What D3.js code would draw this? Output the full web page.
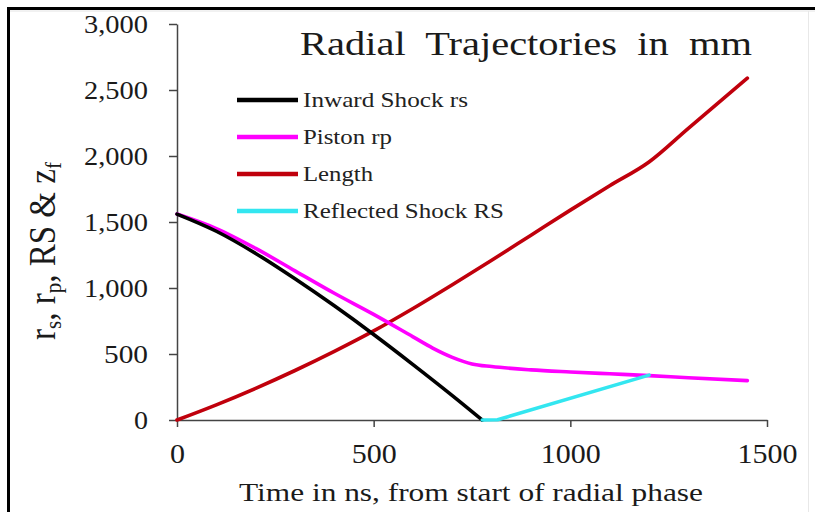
<!DOCTYPE html>
<html><head><meta charset="utf-8">
<script src="https://cdn.jsdelivr.net/npm/d3@7"></script>
<style>body{margin:0;background:#fff}svg{display:block}</style>
</head><body>
<svg id="c" width="815" height="512"></svg>
<script>
// ---- data ----
const xTicks = [0, 500, 1000, 1500];
const yTicks = [0, 500, 1000, 1500, 2000, 2500, 3000];
const seriesNames = ["Inward Shock rs", "Piston rp", "Length", "Reflected Shock RS"];
const shockT   = [0, 100, 200, 300, 400, 500, 600, 700, 776];
const shockR   = [1560, 1430, 1262, 1070, 865, 648, 420, 185, 0];
const pistonT  = [0, 100, 200, 300, 400, 500, 600, 650, 700, 750, 800, 900, 1000, 1100, 1200, 1300, 1450];
const pistonR  = [1560, 1450, 1300, 1130, 960, 800, 630, 545, 475, 425, 405, 380, 364, 350, 336, 320, 298];
const lengthT  = [0, 100, 200, 300, 400, 500, 600, 700, 800, 900, 1000, 1100, 1200, 1300, 1450];
const lengthZ  = [0, 115, 240, 375, 520, 675, 845, 1025, 1210, 1400, 1590, 1775, 1955, 2210, 2590];
const reflT    = [776, 815, 1200];
const reflR    = [0, 2, 340];

const colors = ["#000000", "#ff00ff", "#c0000c", "#33e6f0"];
const FONT = "'Liberation Serif','Times New Roman',serif";

const svg = d3.select("#c");
// frame
svg.append("line").attr("x1",8.5).attr("y1",8).attr("x2",8.5).attr("y2",512).attr("stroke","#000").attr("stroke-width",3);
svg.append("line").attr("x1",7).attr("y1",8.5).attr("x2",815).attr("y2",8.5).attr("stroke","#000").attr("stroke-width",3);
svg.append("line").attr("x1",10).attr("y1",11).attr("x2",815).attr("y2",11).attr("stroke","#e4e4e4").attr("stroke-width",1);
svg.append("line").attr("x1",808.5).attr("y1",11).attr("x2",808.5).attr("y2",512).attr("stroke","#e8e8e8").attr("stroke-width",1);

const x = d3.scaleLinear().domain([0, 1500]).range([177, 767]);
const y = d3.scaleLinear().domain([0, 3000]).range([420, 24]);

// axes
const gy = svg.append("g").attr("transform","translate(177,0)")
  .call(d3.axisLeft(y).tickValues(yTicks).tickSize(8).tickSizeOuter(0).tickPadding(21).tickFormat(d3.format(",")));
const gx = svg.append("g").attr("transform","translate(0,420)")
  .call(d3.axisBottom(x).tickValues(xTicks).tickSize(7).tickSizeOuter(0).tickFormat(d3.format("d")));
[gx, gy].forEach(g => {
  g.select(".domain").attr("stroke","#444").attr("stroke-width",1.5);
  g.selectAll(".tick line").attr("stroke","#444").attr("stroke-width",1.5);
  g.selectAll("text").attr("fill","#1a1a1a").style("font-family",FONT);
});
gy.selectAll("text").style("font-size","26px")
  .attr("textLength", d => d >= 1000 ? 64 : (d > 0 ? 44 : 14)).attr("lengthAdjust","spacingAndGlyphs");
gx.selectAll("text").style("font-size","28px").attr("y",43).attr("dy",0)
  .attr("textLength", d => d >= 1000 ? 60 : (d > 0 ? 45 : 15)).attr("lengthAdjust","spacingAndGlyphs");

// lines
const smooth = d3.line().x(d => x(d[0])).y(d => y(d[1])).curve(d3.curveMonotoneX);
const straight = d3.line().x(d => x(d[0])).y(d => y(d[1]));
const series = [
  d3.zip(shockT, shockR),
  d3.zip(pistonT, pistonR),
  d3.zip(lengthT, lengthZ),
  d3.zip(reflT, reflR)
];
const drawOrder = [2, 1, 0, 3];
drawOrder.forEach(i => {
  svg.append("path").datum(series[i]).attr("d", i === 3 ? straight : smooth)
    .attr("fill","none").attr("stroke",colors[i]).attr("stroke-width",3.6)
    .attr("stroke-linejoin","round").attr("stroke-linecap","round");
});

// legend
const legendW = [165, 89, 70, 201];
seriesNames.forEach((n, i) => {
  const ly = 100 + i * 37;
  svg.append("line").attr("x1",237).attr("x2",298).attr("y1",ly).attr("y2",ly)
    .attr("stroke",colors[i]).attr("stroke-width",4.5);
  svg.append("text").attr("x",303).attr("y",ly+7).text(n)
    .style("font-family",FONT).style("font-size","21px").attr("fill","#222")
    .attr("textLength",legendW[i]).attr("lengthAdjust","spacingAndGlyphs");
});

// title
svg.append("text").attr("x",300).attr("y",55).text("Radial  Trajectories  in  mm")
  .attr("xml:space","preserve").style("white-space","pre")
  .style("font-family",FONT).style("font-size","33px").attr("fill","#1a1a1a")
  .attr("textLength",452).attr("lengthAdjust","spacingAndGlyphs");

// x axis title
svg.append("text").attr("x",471).attr("y",501).attr("text-anchor","middle")
  .text("Time in ns, from start of radial phase")
  .style("font-family",FONT).style("font-size","25px").attr("fill","#1a1a1a")
  .attr("textLength",464).attr("lengthAdjust","spacingAndGlyphs");

// y axis title
const yt = svg.append("text").attr("transform","translate(55,340) rotate(-90) scale(0.87,1)")
  .style("font-family",FONT).style("font-size","38px").attr("fill","#1a1a1a");
const parts = [["r",0],["s",1],[", r",0],["p",1],[", RS & z",0],["f",1]];
parts.forEach(([t, sub]) => {
  const ts = yt.append("tspan").text(t);
  if (sub) ts.attr("dy", "0.25em").style("font-size","24px");
  else ts.attr("dy", t === "r" ? 0 : "-0.16em");
});
</script>
</body></html>
